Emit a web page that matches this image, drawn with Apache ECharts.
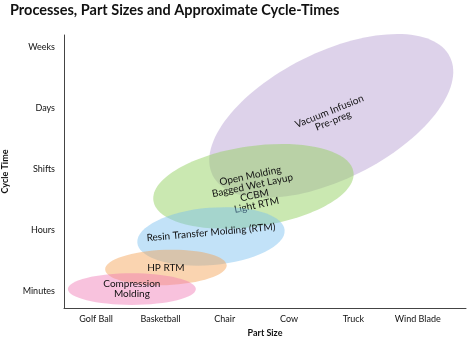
<!DOCTYPE html>
<html>
<head>
<meta charset="utf-8">
<script src="https://cdn.jsdelivr.net/npm/echarts@6/dist/echarts.min.js"></script>
<style>html,body{margin:0;padding:0;background:#fff}#c{width:468px;height:338px}</style>
</head>
<body>
<div id="c"></div>
<script>
// Tick categories
var partSizes = ['Golf Ball', 'Basketball', 'Chair', 'Cow', 'Truck', 'Wind Blade'];
var cycleTimes = ['Minutes', 'Hours', 'Shifts', 'Days', 'Weeks'];

// Processes (ellipses) in axis units
var processes = ['Vacuum Infusion\nPre-preg', 'Open Molding\nBagged Wet Layup\nCCBM\nLight RTM', 'Resin Transfer Molding (RTM)', 'HP RTM', 'Compression\nMolding'];
// major axis end points (part size index, cycle time index)
var sizeFrom = [1.81, 0.89, 0.64, 0.14, -0.44];
var timeFrom = [1.90, 1.48, 0.79, 0.35, 0.03];
var sizeTo   = [5.50, 4.00, 2.93, 2.03, 1.55];
var timeTo   = [3.84, 1.95, 1.00, 0.42, 0.03];
// half width across the major axis, in cycle-time units
var timeWidth = [1.04, 0.66, 0.47, 0.29, 0.26];

// styles
var fills = ['rgba(188,166,214,0.5)', 'rgba(150,210,100,0.5)', 'rgba(120,190,240,0.45)', 'rgba(245,160,80,0.45)', 'rgba(240,120,180,0.45)'];
var labelTilt = [22, 12, 5, 0, 0];
var labelShift = [0, 4, -4, 0, 0];

var data = processes.map(function (p, i) {
  return [sizeFrom[i], timeFrom[i], sizeTo[i], timeTo[i], timeWidth[i], i];
});

var chart = echarts.init(document.getElementById('c'), null, {renderer: 'canvas'});
var FONT = 'Lato, "Open Sans", sans-serif';
chart.setOption({
  animation: false,
  title: {
    text: 'Processes, Part Sizes and Approximate Cycle-Times',
    left: 10, top: 3, padding: 0,
    textStyle: {fontFamily: FONT, fontWeight: 'bold', fontSize: 14.5, color: '#111'}
  },
  grid: {left: 64, right: 2, top: 35, bottom: 30, outerBoundsMode: 'none', containLabel: false},
  xAxis: {
    type: 'value', min: -0.5, max: 5.75,
    name: 'Part Size', nameLocation: 'middle', nameGap: 20,
    nameTextStyle: {fontFamily: FONT, fontWeight: 'bold', fontSize: 9, color: '#111'},
    axisLine: {show: true, onZero: false, lineStyle: {color: '#444', width: 1}},
    axisTick: {show: false},
    splitLine: {show: false},
    axisLabel: {
      customValues: [0, 1, 2, 3, 4, 5],
      formatter: function (v) { return partSizes[Math.round(v)] || ''; },
      fontFamily: FONT, fontSize: 9, color: '#111', margin: 7
    }
  },
  yAxis: {
    type: 'value', min: -0.28, max: 4.2,
    name: 'Cycle Time', nameLocation: 'middle', nameGap: 54,
    nameTextStyle: {fontFamily: FONT, fontWeight: 'bold', fontSize: 9, color: '#111'},
    axisLine: {show: true, onZero: false, lineStyle: {color: '#444', width: 1}},
    axisTick: {show: false},
    splitLine: {show: false},
    axisLabel: {
      customValues: [0, 1, 2, 3, 4],
      formatter: function (v) { return cycleTimes[Math.round(v)] || ''; },
      fontFamily: FONT, fontSize: 9, color: '#111', margin: 9
    }
  },
  series: [{
    type: 'custom',
    clip: false,
    data: data,
    encode: {x: [0, 2], y: [1, 3]},
    renderItem: function (params, api) {
      var i = api.value(5);
      var p1 = api.coord([api.value(0), api.value(1)]);
      var p2 = api.coord([api.value(2), api.value(3)]);
      var cx = (p1[0] + p2[0]) / 2, cy = (p1[1] + p2[1]) / 2;
      var dx = p2[0] - p1[0], dy = p2[1] - p1[1];
      var rx = Math.sqrt(dx * dx + dy * dy) / 2;
      var ry = api.size([0, api.value(4)])[1];
      var ang = Math.atan2(dy, dx);
      return {
        type: 'group',
        children: [{
          type: 'ellipse',
          x: cx, y: cy, rotation: -ang,
          shape: {cx: 0, cy: 0, rx: rx, ry: ry},
          style: {fill: fills[i]}
        }, {
          type: 'text',
          x: cx, y: cy + labelShift[i], rotation: labelTilt[i] * Math.PI / 180,
          style: {
            text: processes[i], fill: '#111', font: '10px ' + FONT,
            align: 'center', verticalAlign: 'middle', lineHeight: 10
          }
        }]
      };
    }
  }]
});
</script>
</body>
</html>
